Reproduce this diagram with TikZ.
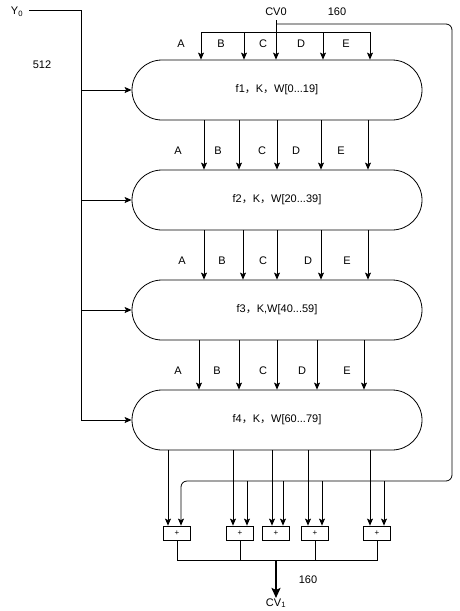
\documentclass[tikz,border=0pt]{standalone}
\usepackage{fontspec}
\setmainfont{Liberation Sans}
\newfontfamily\cjk{Noto Sans CJK SC}
\usetikzlibrary{positioning, calc, arrows.meta}
\tikzset{rbox/.style={draw, rounded corners=30pt, minimum width=290pt, minimum height=60pt, inner sep=0pt}}
\tikzset{addbox/.style={draw, minimum width=27pt, minimum height=14pt, inner sep=0pt, font=\fontsize{8}{9}\selectfont}}
\tikzset{arr/.style={draw, -{Stealth[length=7pt, width=6pt, inset=1.5pt]}}}
\tikzset{arrbig/.style={draw, line width=2pt, -{Stealth[length=10pt, width=9pt, inset=2pt]}}}
\tikzset{lbl/.style={inner sep=0pt}}
\newcommand{\fwc}{{\cjk ，}}

\begin{document}
\begin{tikzpicture}[x=1pt, y=-1pt, line width=0.8pt, font=\fontsize{11}{13}\selectfont]
	\useasboundingbox (0,0) rectangle (460,611);
	% rounds
	\node[rbox] (f1) at (277,90) {f1\fwc K\fwc W[0...19]};
	\node[rbox] (f2) at (277,200) {f2\fwc K\fwc W[20...39]};
	\node[rbox] (f3) at (277,310) {f3\fwc K,W[40...59]};
	\node[rbox] (f4) at (277,420) {f4\fwc K\fwc W[60...79]};
	% message input
	\node[lbl] (y0) at (17,12) {Y\textsubscript{0}};
	\node[lbl] (len) at (42,65) {512};
	\coordinate (ytop) at (81,10);
	\draw (y0.east |- ytop) ++(6,0) -- (ytop) -- (ytop |- f4.west);
	\foreach \f in {f1,f2,f3,f4}
		\draw[arr] (ytop |- \f.west) -- (\f.west);
	% chaining value in
	\node[lbl] (cv0) at (276,12) {CV0};
	\node[lbl] (cvlen) at (337,12) {160};
	\coordinate (cvtop) at (276,20);
	\coordinate (abus) at (276,32);
	\draw[arr] (cvtop) -- (cvtop |- f1.north);
	\draw (abus -| 201,0) -- (abus -| 370,0);
	\foreach \x in {201,244,323,370}
		\draw[arr] (abus -| \x,0) -- (f1.north -| \x,0);
	\foreach \x/\t in {181/A,221/B,263/C,301/D,346/E}
		\node[lbl] at (\x,44) {\t};
	% between rounds
	\foreach \x in {204,239,277,321,368}
		\draw[arr] (f1.south -| \x,0) -- (f2.north -| \x,0);
	\foreach \x/\t in {178/A,218/B,262/C,296/D,341/E}
		\node[lbl] at (\x,151) {\t};
	\foreach \x in {204,243,277,321,368}
		\draw[arr] (f2.south -| \x,0) -- (f3.north -| \x,0);
	\foreach \x/\t in {182/A,222/B,263/C,308/D,347/E}
		\node[lbl] at (\x,261) {\t};
	\foreach \x in {199,239,277,317,364}
		\draw[arr] (f3.south -| \x,0) -- (f4.north -| \x,0);
	\foreach \x/\t in {178/A,217/B,263/C,302/D,347/E}
		\node[lbl] at (\x,371) {\t};
	% adders
	\node[addbox] (add1) at (177,533) {+};
	\node[addbox] (add2) at (240,533) {+};
	\node[addbox] (add3) at (276,533) {+};
	\node[addbox] (add4) at (315,533) {+};
	\node[addbox] (add5) at (377,533) {+};
	\foreach \x/\a in {168/add1,233/add2,272/add3,308/add4,370/add5}
		\draw[arr] (f4.south -| \x,0) -- (\a.north -| \x,0);
	% feed forward
	\coordinate (fb) at (181,481);
	\draw[arr, rounded corners=6pt] (cvtop |- 0,24) -- (452,24) -- (452,481) -- (fb) -- (add1.north -| fb);
	\foreach \x/\a in {247/add2,283/add3,322/add4,384/add5}
		\draw[arr] (fb -| \x,0) -- (\a.north -| \x,0);
	% output
	\coordinate (obus) at (276,560);
	\draw (add1.south) |- (obus -| add5.south) -- (add5.south);
	\draw (add2.south) -- (add2.south |- obus);
	\draw (add4.south) -- (add4.south |- obus);
	\node[lbl] (cv1) at (276,603) {CV\textsubscript{1}};
	\node[lbl] (outlen) at (308,580) {160};
	\draw[arrbig] (obus) -- (cv1.north);
\end{tikzpicture}
\end{document}
